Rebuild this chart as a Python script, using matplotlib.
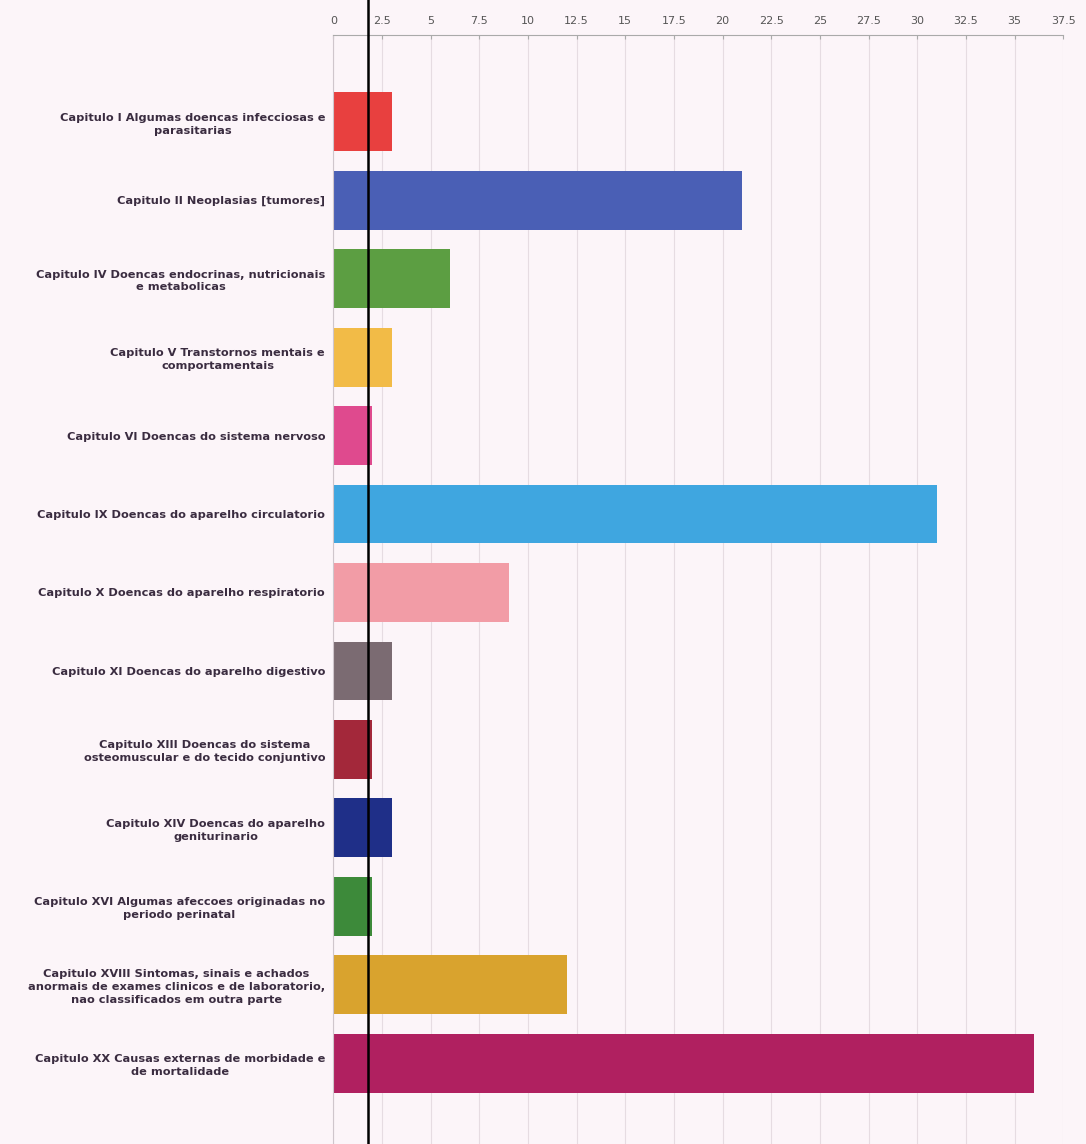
import matplotlib.pyplot as plt

# dados
capitulos = [
    'Capitulo I Algumas doencas infecciosas e\nparasitarias',
    'Capitulo II Neoplasias [tumores]',
    'Capitulo IV Doencas endocrinas, nutricionais\ne metabolicas',
    'Capitulo V Transtornos mentais e\ncomportamentais',
    'Capitulo VI Doencas do sistema nervoso',
    'Capitulo IX Doencas do aparelho circulatorio',
    'Capitulo X Doencas do aparelho respiratorio',
    'Capitulo XI Doencas do aparelho digestivo',
    'Capitulo XIII Doencas do sistema\nosteomuscular e do tecido conjuntivo',
    'Capitulo XIV Doencas do aparelho\ngeniturinario',
    'Capitulo XVI Algumas afeccoes originadas no\nperiodo perinatal',
    'Capitulo XVIII Sintomas, sinais e achados\nanormais de exames clinicos e de laboratorio,\nnao classificados em outra parte',
    'Capitulo XX Causas externas de morbidade e\nde mortalidade',
]
valores = [3, 21, 6, 3, 2, 31, 9, 3, 2, 3, 2, 12, 36]
cores = ['#e8403f', '#4a5fb5', '#5c9e42', '#f2bb47', '#df4a8e', '#3fa6e0',
         '#f29ca6', '#7b6b72', '#a3283a', '#1f2f88', '#3d8a3a', '#d9a32e', '#b02060']
ticks = [0, 2.5, 5, 7.5, 10, 12.5, 15, 17.5, 20, 22.5, 25, 27.5, 30, 32.5, 35, 37.5]
linha_x = 1.8

fundo = '#fcf5f9'
fig = plt.figure(figsize=(10.86, 11.44), dpi=100, facecolor=fundo)
ax = fig.add_axes([0.307, 0.0, 0.672, 0.969], facecolor=fundo)

pos = list(range(len(valores)))
ax.barh(pos, valores, height=0.75, color=cores, zorder=2)

ax.set_xlim(0, 37.5)
ax.set_ylim(13.03, -1.1)
ax.set_xticks(ticks)
ax.set_xticklabels([('%g' % t) for t in ticks], fontsize=8, color='#555555')
ax.xaxis.tick_top()
ax.tick_params(axis='x', direction='in', length=3, color='#aaaaaa', pad=7)
ax.set_yticks(pos)
ax.set_yticklabels(capitulos, fontsize=8.2, color='#3a2c40', multialignment='center',
                   linespacing=1.35)
ax.tick_params(axis='y', length=0, pad=6)
for lbl in ax.get_yticklabels():
    lbl.set_fontweight('semibold')

ax.grid(axis='x', color='#e6dce2', linewidth=0.8, zorder=0)
for s in ['right', 'bottom']:
    ax.spines[s].set_visible(False)
ax.spines['top'].set_color('#aaaaaa')
ax.spines['left'].set_color('#cfc6cc')

# linha vertical preta
ax.axvline(linha_x, ymin=0, ymax=1 / 0.969, color='black', linewidth=1.8, clip_on=False, zorder=3)

plt.savefig('out.png', dpi=100, facecolor=fundo)
